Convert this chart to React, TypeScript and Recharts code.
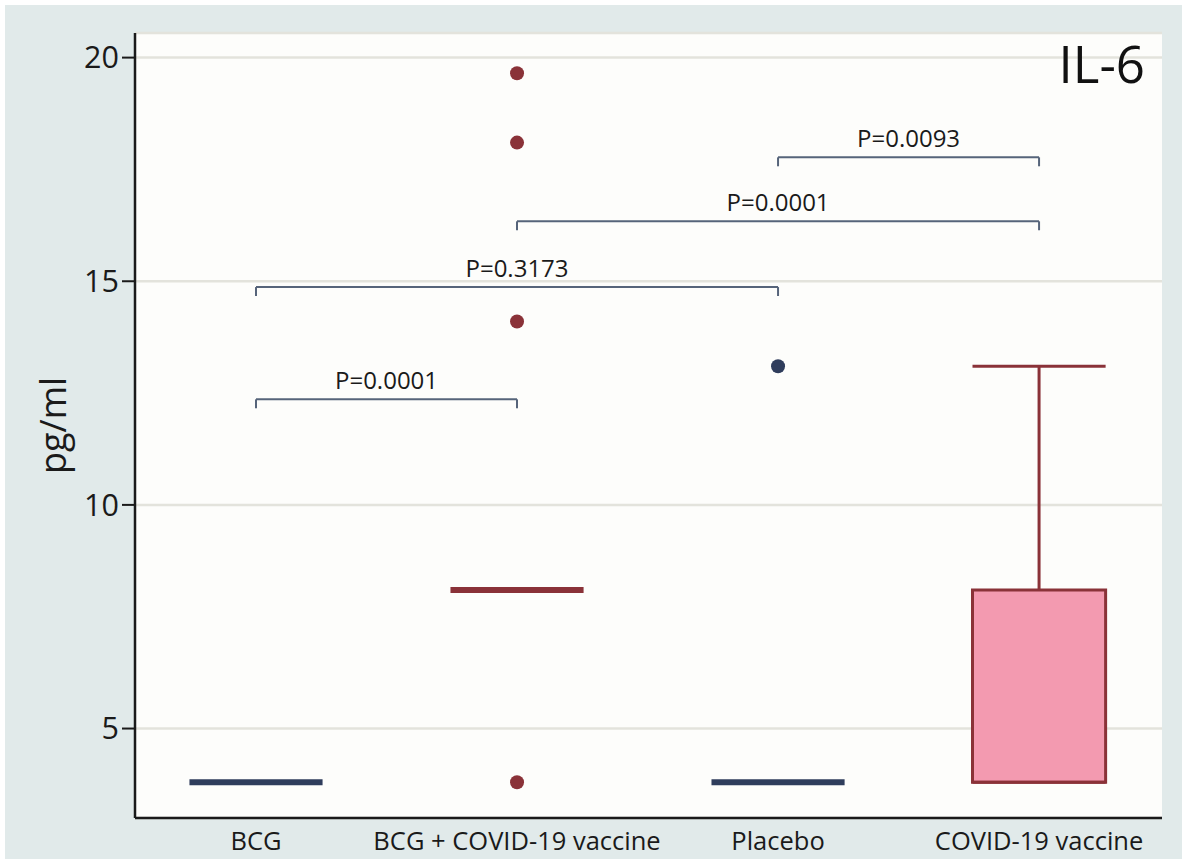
import React from 'react';
import {
  CartesianGrid,
  ComposedChart,
  Label,
  ReferenceArea,
  ReferenceLine,
  Scatter,
  XAxis,
  YAxis,
} from 'recharts';

// Groups along the x axis (index = position on the numeric x scale)
const categories = ['BCG', 'BCG + COVID-19 vaccine', 'Placebo', 'COVID-19 vaccine'];
const groupColors = ['#2f3d5c', '#8a3238', '#2f3d5c', '#8a3238'];

// Box summary per group (pg/ml)
const q1 = [3.8, 8.1, 3.8, 3.8];
const median = [3.8, 8.1, 3.8, 3.8];
const q3 = [3.8, 8.1, 3.8, 8.1];
const whiskerHigh = [3.8, 8.1, 3.8, 13.1];

// Outside values
const outliers: number[][] = [[], [19.65, 18.1, 14.1, 3.8], [13.1], []];

// Significance brackets
const bracketPairs: [number, number][] = [
  [0, 1],
  [0, 2],
  [1, 3],
  [2, 3],
];
const bracketHeights = [12.36, 14.87, 16.34, 17.77];
const bracketLabels = ['P=0.0001', 'P=0.3173', 'P=0.0001', 'P=0.0093'];

const yTicks = [5, 10, 15, 20];

const BOX_HALF = 0.255;
const LEG = 0.2;
const FONT = '"Open Sans", sans-serif';
const TEXT = '#1a1a1a';
const BRACKET_COLOR = '#56647a';
const BOX_FILL = '#f39ab0';

export default function App() {
  const outlierPoints = outliers.flatMap((vals, i) =>
    vals.map((v) => ({ x: i, y: v, color: groupColors[i] })),
  );

  return (
    <div
      style={{
        position: 'absolute',
        left: 0,
        top: 0,
        width: 1182,
        height: 859,
        background: '#ffffff',
        fontFamily: FONT,
      }}
    >
      <div
        style={{
          position: 'absolute',
          left: 5,
          top: 5,
          width: 1177,
          height: 854,
          background: '#e1eaea',
        }}
      />
      <div style={{ position: 'absolute', left: 0, top: 0 }}>
        <ComposedChart
          width={1182}
          height={859}
          margin={{ top: 33, right: 20, bottom: 0, left: 0 }}
        >
          <CartesianGrid
            vertical={false}
            stroke="#e3e3dc"
            strokeWidth={2.5}
            fill="#fdfdfb"
            fillOpacity={1}
          />
          <XAxis
            type="number"
            dataKey="x"
            domain={[-0.4636, 3.471]}
            allowDataOverflow
            ticks={[0, 1, 2, 3]}
            interval={0}
            tickFormatter={(v: number) => categories[v] ?? ''}
            height={41}
            axisLine={{ stroke: '#1a1a1a', strokeWidth: 2.5 }}
            tickLine={false}
            tickSize={6}
            tickMargin={8}
            tick={{ fontSize: 25.5, fill: TEXT, fontFamily: FONT }}
          />
          <YAxis
            type="number"
            dataKey="y"
            domain={[3, 20.55]}
            allowDataOverflow
            ticks={yTicks}
            width={135}
            axisLine={{ stroke: '#1a1a1a', strokeWidth: 2.5 }}
            tickLine={{ stroke: '#1a1a1a', strokeWidth: 2 }}
            tickSize={13}
            tickMargin={3}
            tick={{ fontSize: 30.5, fill: TEXT, fontFamily: FONT }}
          >
            <Label
              content={(props: any) => {
                const vb = props.viewBox ?? {};
                const cx = 52;
                const cy = vb.height ? vb.y + vb.height / 2 : 425;
                return (
                  <text
                    x={cx}
                    y={cy}
                    transform={`rotate(-90 ${cx} ${cy})`}
                    textAnchor="middle"
                    dominantBaseline="central"
                    fontSize={36}
                    fill={TEXT}
                    fontFamily={FONT}
                  >
                    pg/ml
                  </text>
                );
              }}
            />
          </YAxis>

          {/* boxes (only where q1 < q3) */}
          {categories.map((c, i) =>
            q3[i] > q1[i] ? (
              <ReferenceArea
                key={`box-${c}`}
                x1={i - BOX_HALF}
                x2={i + BOX_HALF}
                y1={q1[i]}
                y2={q3[i]}
                fill={BOX_FILL}
                fillOpacity={1}
                stroke={groupColors[i]}
                strokeWidth={3}
              />
            ) : null,
          )}

          {/* upper whiskers + caps */}
          {categories.map((c, i) =>
            whiskerHigh[i] > q3[i] ? (
              <ReferenceLine
                key={`wh-${c}`}
                segment={[
                  { x: i, y: q3[i] },
                  { x: i, y: whiskerHigh[i] },
                ]}
                stroke={groupColors[i]}
                strokeWidth={3}
              />
            ) : null,
          )}
          {categories.map((c, i) =>
            whiskerHigh[i] > q3[i] ? (
              <ReferenceLine
                key={`cap-${c}`}
                segment={[
                  { x: i - BOX_HALF, y: whiskerHigh[i] },
                  { x: i + BOX_HALF, y: whiskerHigh[i] },
                ]}
                stroke={groupColors[i]}
                strokeWidth={3}
              />
            ) : null,
          )}

          {/* medians; collapsed boxes show up as a thick bar */}
          {categories.map((c, i) => (
            <ReferenceLine
              key={`med-${c}`}
              segment={[
                { x: i - BOX_HALF, y: median[i] },
                { x: i + BOX_HALF, y: median[i] },
              ]}
              stroke={groupColors[i]}
              strokeWidth={q3[i] > q1[i] ? 3 : 6}
            />
          ))}

          {/* significance brackets */}
          {bracketPairs.map(([a, b], k) => (
            <ReferenceLine
              key={`br-${k}`}
              segment={[
                { x: a, y: bracketHeights[k] },
                { x: b, y: bracketHeights[k] },
              ]}
              stroke={BRACKET_COLOR}
              strokeWidth={2}
              label={{
                value: bracketLabels[k],
                position: 'top',
                offset: 10,
                fontSize: 24,
                fill: TEXT,
                fontFamily: FONT,
              }}
            />
          ))}
          {bracketPairs.flatMap(([a, b], k) =>
            [a, b].map((xi) => (
              <ReferenceLine
                key={`leg-${k}-${xi}`}
                segment={[
                  { x: xi, y: bracketHeights[k] },
                  { x: xi, y: bracketHeights[k] - LEG },
                ]}
                stroke={BRACKET_COLOR}
                strokeWidth={2}
              />
            )),
          )}

          <Scatter
            data={outlierPoints}
            isAnimationActive={false}
            shape={(p: any) => (
              <circle cx={p.cx} cy={p.cy} r={7} fill={p.payload?.color ?? p.color} />
            )}
          />
        </ComposedChart>
      </div>
      <div
        style={{
          position: 'absolute',
          right: 1182 - 1145,
          top: 28,
          fontSize: 51,
          lineHeight: '70px',
          color: '#111',
          fontFamily: FONT,
        }}
      >
        IL-6
      </div>
    </div>
  );
}
